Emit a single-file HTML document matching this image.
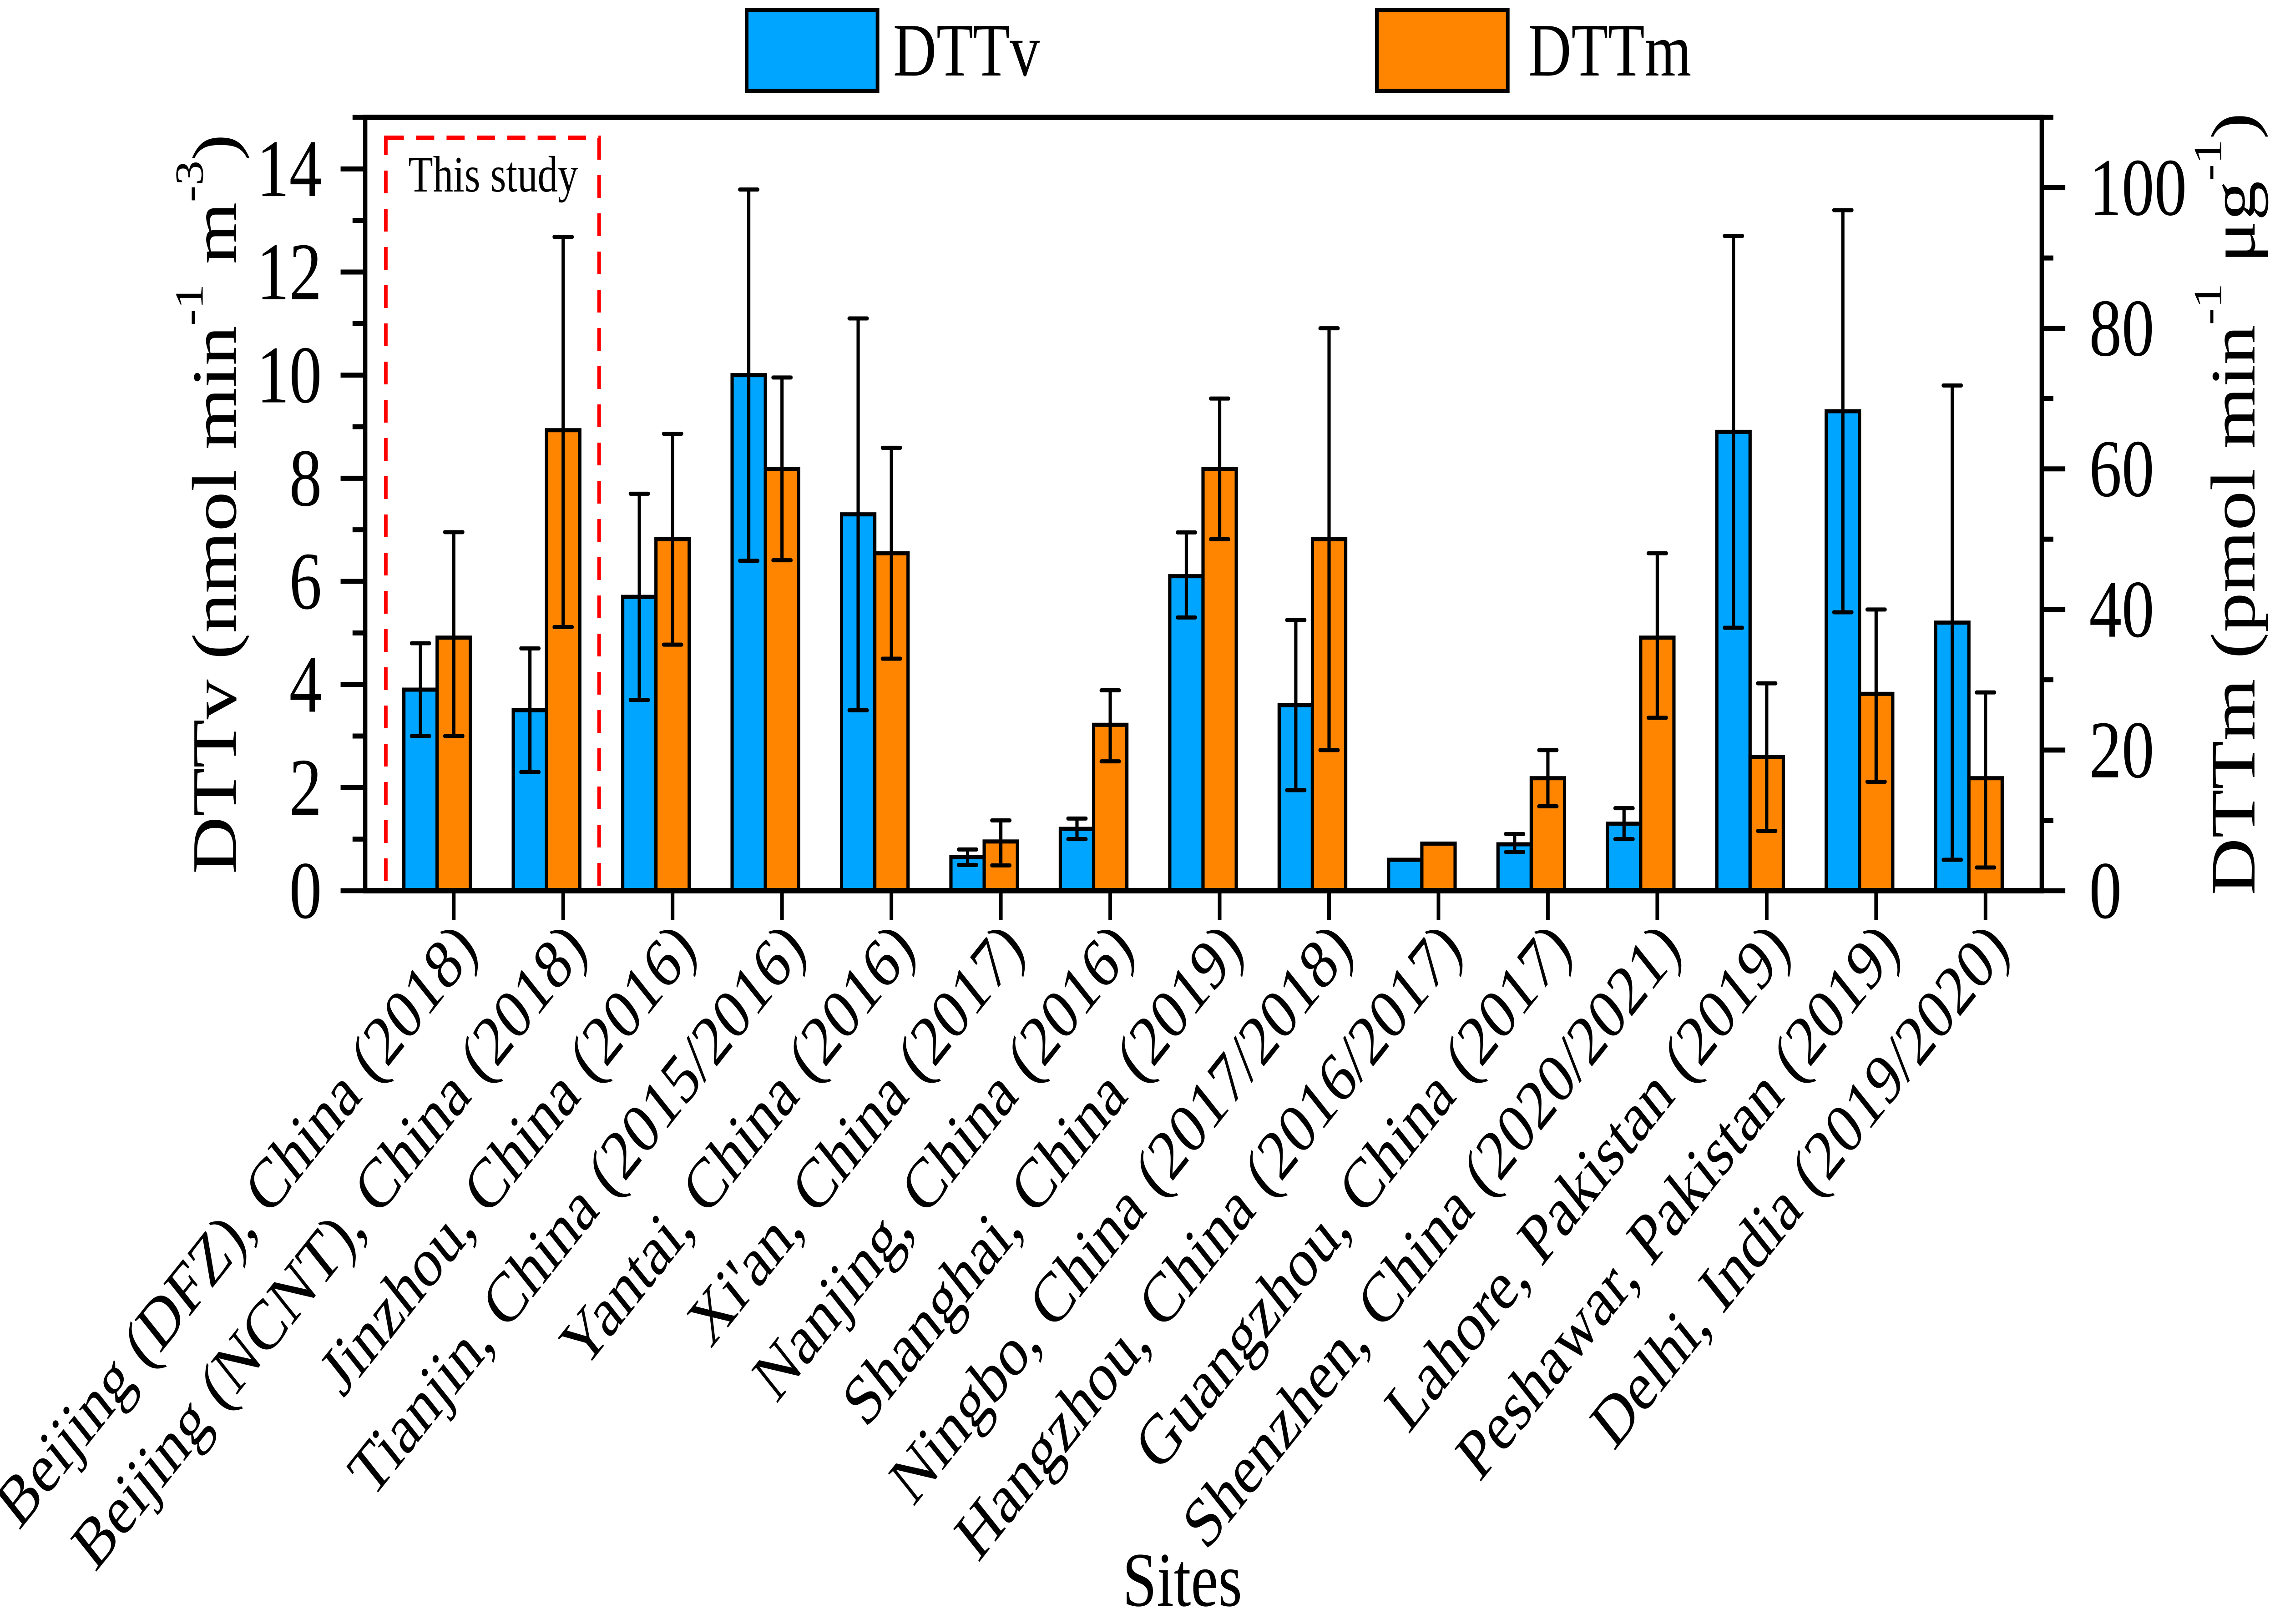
<!DOCTYPE html>
<html><head><meta charset="utf-8"><style>
html,body{margin:0;padding:0;background:#fff;overflow:hidden;width:100vw;height:100vh}
svg{display:block;width:100vw;height:100vh}
text{font-family:"Liberation Serif","Times New Roman",serif;fill:#000}
</style></head><body>
<svg id="chart" viewBox="0 0 6292 3570" preserveAspectRatio="none" xmlns="http://www.w3.org/2000/svg">
<text x="594" y="1108" font-size="175" text-anchor="middle" dominant-baseline="central" transform="rotate(-90 594 1108)">DTTv (nmol min<tspan font-size="110" dy="-70">-1</tspan><tspan dy="70"> m</tspan><tspan font-size="110" dy="-70">-3</tspan><tspan dy="70">)</tspan></text>
<text x="6177" y="1108" font-size="175" text-anchor="middle" dominant-baseline="central" transform="rotate(-90 6177 1108)">DTTm (pmol min<tspan font-size="110" dy="-70">-1</tspan><tspan dy="70"> μg</tspan><tspan font-size="110" dy="-70">-1</tspan><tspan dy="70">)</tspan></text>
<text x="3270" y="3530" font-size="170" text-anchor="middle">Sites</text>
<rect x="2065" y="22" width="362" height="178" fill="#00a5ff" stroke="#000" stroke-width="10"/>
<text x="2470" y="166" font-size="166">DTTv</text>
<rect x="3808" y="22" width="362" height="178" fill="#ff8500" stroke="#000" stroke-width="10"/>
<text x="4226" y="166" font-size="166">DTTm</text>
</svg>
<script>
const categories=["Beijing (DFZ), China (2018)","Beijing (NCNT), China (2018)","Jinzhou, China (2016)","Tianjin, China (2015/2016)","Yantai, China (2016)","Xi'an, China (2017)","Nanjing, China (2016)","Shanghai, China (2019)","Ningbo, China (2017/2018)","Hangzhou, China (2016/2017)","Guangzhou, China (2017)","Shenzhen, China (2020/2021)","Lahore, Pakistan (2019)","Peshawar, Pakistan (2019)","Delhi, India (2019/2020)"];
const dttv=[3.9,3.5,5.7,10.0,7.3,0.65,1.2,6.1,3.6,0.6,0.9,1.3,8.9,9.3,5.2];
const dttvHigh=[4.8,4.7,7.7,13.6,11.1,0.8,1.4,6.95,5.25,null,1.1,1.6,12.7,13.2,9.8];
const dttvLow=[3.0,2.3,3.7,6.4,3.5,0.5,1.0,5.3,1.95,null,0.75,1.0,5.1,5.4,0.6];
const dttm=[36,65.5,50,60,48,7,23.6,60,50,6.7,16,36,19,28,16];
const dttmHigh=[51,93,65,73,63,10,28.5,70,80,null,20,48,29.5,40,28.2];
const dttmLow=[22,37.5,35,47,33,3.6,18.4,50,20,null,12,24.6,8.5,15.5,3.3];
const leftTicks=[0,2,4,6,8,10,12,14];
const rightTicks=[0,20,40,60,80,100];

const NS="http://www.w3.org/2000/svg";
const svg=document.getElementById('chart');
const L=1010,R=5647,T=258,B=1958;
const LMAX=15,RMAX=110;
const yL=v=>B-(v/LMAX)*(B-T);
const yR=v=>B-(v/RMAX)*(B-T);
const xC=i=>1255+i*302.6;
const BW=92;
function el(tag,attrs,parent){const e=document.createElementNS(NS,tag);for(const k in attrs)e.setAttribute(k,attrs[k]);(parent||svg).appendChild(e);return e;}

const study=el('rect',{x:1067,y:303,width:590,height:B-303,fill:'none',stroke:'#ff0000','stroke-width':10,'stroke-dasharray':'50,34'});


const st=el('text',{x:1364,y:421,'font-size':112,'text-anchor':'middle'});
st.textContent='This study';



function errbar(x,hi,lo,yf,name){
  const g=el('g',{stroke:'#000','stroke-width':9,'stroke-linecap':'round'});
  
  
  el('line',{x1:x,x2:x,y1:yf(hi),y2:yf(lo)},g);
  el('line',{x1:x-25,x2:x+25,y1:yf(hi),y2:yf(hi)},g);
  el('line',{x1:x-25,x2:x+25,y1:yf(lo),y2:yf(lo)},g);
}
categories.forEach((c,i)=>{
  const cx=xC(i);
  const b1=el('rect',{x:cx-46-BW,y:yL(dttv[i]),width:BW,height:B-yL(dttv[i]),fill:'#00a5ff',stroke:'#000','stroke-width':9});
  
  
  const b2=el('rect',{x:cx-46,y:yR(dttm[i]),width:BW,height:B-yR(dttm[i]),fill:'#ff8500',stroke:'#000','stroke-width':9});
  
  
  if(dttvHigh[i]!==null) errbar(cx-92,dttvHigh[i],dttvLow[i],yL,'error-dttv-'+(i+1));
  if(dttmHigh[i]!==null) errbar(cx,dttmHigh[i],dttmLow[i],yR,'error-dttm-'+(i+1));
  const tk=el('line',{x1:cx,x2:cx,y1:B,y2:B+65,stroke:'#000','stroke-width':10});
  
  
  const lb=el('text',{x:cx+35,y:2055,'font-size':156,'text-anchor':'end','dominant-baseline':'central',transform:`rotate(-45 ${cx+35} 2055)`});
  lb.textContent=c;
  
  
});

const fr=el('rect',{x:L,y:T,width:R-L,height:B-T,fill:'none',stroke:'#000','stroke-width':12});



for(let v=0;v<=LMAX;v++){
  const maj=v%2===0;
  const t=el('line',{x1:L-(maj?68:35),x2:L,y1:yL(v),y2:yL(v),stroke:'#000','stroke-width':11});
  
  
}
leftTicks.forEach(v=>{
  const t=el('text',{x:890,y:yL(v),'font-size':180,'text-anchor':'end','dominant-baseline':'central'});
  t.textContent=v;
  
  
});
for(let v=0;v<=RMAX;v+=10){
  const maj=v%20===0;
  const t=el('line',{x1:R,x2:R+(maj?65:32),y1:yR(v),y2:yR(v),stroke:'#000','stroke-width':11});
  
  
}
rightTicks.forEach(v=>{
  const t=el('text',{x:5778,y:yR(v),'font-size':180,'text-anchor':'start','dominant-baseline':'central'});
  t.textContent=v;
  
  
});
</script>
</body></html>
